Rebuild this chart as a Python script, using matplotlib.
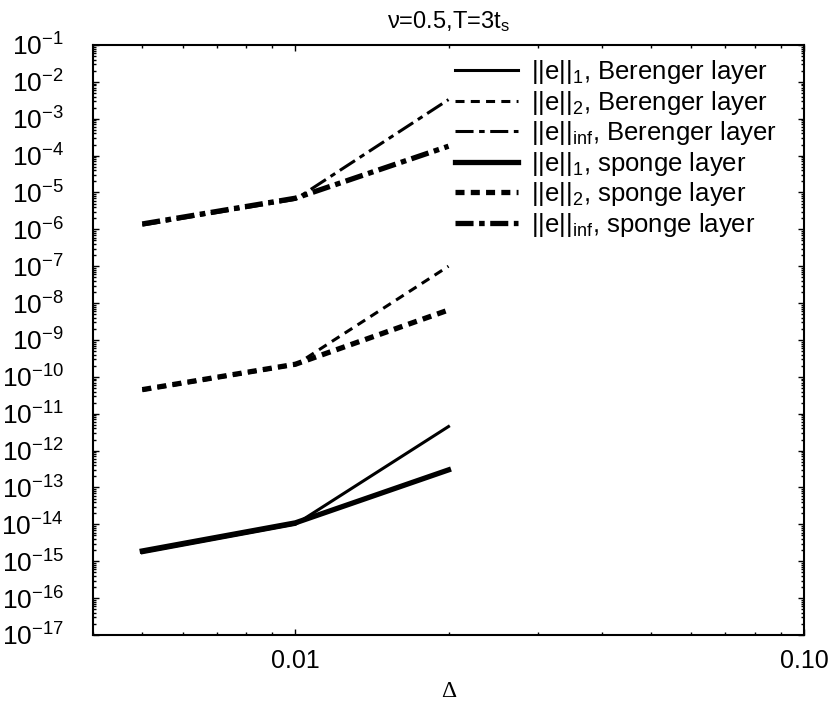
import matplotlib
matplotlib.use("Agg")
import matplotlib.pyplot as plt
from matplotlib.ticker import LogLocator, NullFormatter

# grid spacing and error norms
delta = [0.005, 0.01, 0.02]
ber_l1 = [1.7e-15, 1.0e-14, 4.5e-12]
ber_l2 = [4.3e-11, 2.1e-10, 1.0e-7]
ber_inf = [1.3e-6, 6.5e-6, 3.3e-3]
sp_l1 = [1.9e-15, 1.1e-14, 3.0e-13]
sp_l2 = [4.5e-11, 2.2e-10, 6.5e-9]
sp_inf = [1.4e-6, 7.0e-6, 1.8e-4]

labels = [
    "||e||$_{1}$, Berenger layer",
    "||e||$_{2}$, Berenger layer",
    "||e||$_{\\mathrm{inf}}$, Berenger layer",
    "||e||$_{1}$, sponge layer",
    "||e||$_{2}$, sponge layer",
    "||e||$_{\\mathrm{inf}}$, sponge layer",
]
xticks = [0.01, 0.1]
xticklabels = ["0.01", "0.10"]

plt.rcParams["font.family"] = ["Liberation Sans", "DejaVu Sans"]
plt.rcParams["mathtext.fontset"] = "custom"
plt.rcParams["mathtext.rm"] = "Liberation Sans"
plt.rcParams["mathtext.it"] = "Liberation Sans:italic"
plt.rcParams["mathtext.bf"] = "Liberation Sans:bold"
plt.rcParams["lines.scale_dashes"] = False

fig = plt.figure(figsize=(8.37, 7.05), dpi=100)
ax = fig.add_axes([0.1111, 0.0993, 0.8495, 0.8369])

dash = (0, (6.5, 4.5))
dashdot = (0, (13, 4, 4, 4))

ax.plot(delta, ber_l1, color="black", lw=2.2, ls="-", label=labels[0])
ax.plot(delta, ber_l2, color="black", lw=2.2, ls=dash, label=labels[1])
ax.plot(delta, ber_inf, color="black", lw=2.2, ls=dashdot, label=labels[2])
ax.plot(delta, sp_l1, color="black", lw=3.8, ls="-", label=labels[3])
ax.plot(delta, sp_l2, color="black", lw=3.8, ls=dash, label=labels[4])
ax.plot(delta, sp_inf, color="black", lw=3.8, ls=dashdot, label=labels[5])

ax.set_xscale("log")
ax.set_yscale("log")
ax.set_xlim(0.004, 0.1)
ax.set_ylim(1e-17, 1e-1)

ax.set_xticks(xticks, labels=xticklabels)
ax.xaxis.set_minor_locator(LogLocator(base=10, subs=range(2, 10), numticks=50))
ax.xaxis.set_minor_formatter(NullFormatter())
ax.yaxis.set_major_locator(LogLocator(base=10, numticks=40))
ax.yaxis.set_minor_locator(LogLocator(base=10, subs=range(2, 10), numticks=400))
ax.yaxis.set_minor_formatter(NullFormatter())

ax.tick_params(which="both", direction="in", top=True, right=True, width=1)
ax.tick_params(which="major", length=4.5)
ax.tick_params(which="minor", length=2.2)
ax.tick_params(axis="y", which="major", pad=21, labelsize=19)
ax.tick_params(axis="x", which="major", pad=10, labelsize=18)
for s in ax.spines.values():
    s.set_linewidth(1.5)

ax.set_xlabel("\u0394", fontsize=17, family="Liberation Serif", labelpad=6)
ax.set_title("\u03bd=0.5,T=3t$_{\\mathrm{s}}$", fontsize=17, pad=12)

ax.legend(loc="upper left", bbox_to_anchor=(0.509, 0.978), frameon=False,
          fontsize=18.5, handlelength=2.45, handletextpad=0.5,
          labelspacing=0.1, borderpad=0, borderaxespad=0)

fig.savefig("out.png", dpi=100)
